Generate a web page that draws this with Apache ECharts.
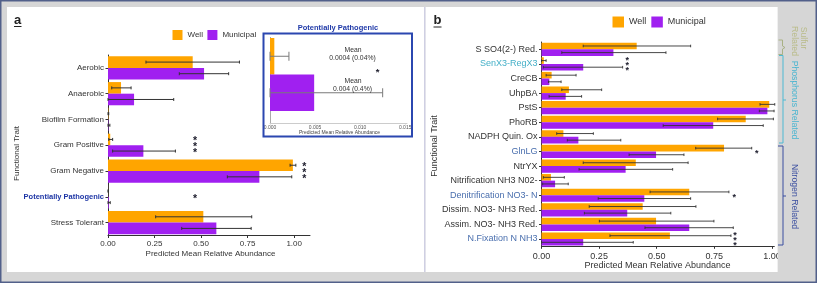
<!DOCTYPE html>
<html>
<head>
<meta charset="utf-8">
<script src="https://cdn.jsdelivr.net/npm/echarts@6.0.0/dist/echarts.min.js"></script>
<style>
html,body{margin:0;padding:0;background:#d6d6d6;}
#chart{width:817px;height:283px;}
</style>
</head>
<body>
<div id="chart"></div>
<script>
// ---------------- data : panel a ----------------
const traitsA = ['Aerobic','Anaerobic','Biofilm Formation','Gram Positive','Gram Negative','Potentially Pathogenic','Stress Tolerant'];
const wellA     = [0.455, 0.070, 0.002, 0.012, 0.993, 0.0004, 0.512];
const wellALow  = [0.204, 0.020, 0.000, 0.004, 0.978, 0.000, 0.256];
const wellAHigh = [0.706, 0.124, 0.004, 0.025, 1.009, 0.002, 0.772];
const muniA     = [0.516, 0.140, 0.002, 0.190, 0.813, 0.004, 0.582];
const muniALow  = [0.383, 0.000, 0.000, 0.025, 0.641, 0.000, 0.396];
const muniAHigh = [0.648, 0.353, 0.010, 0.362, 0.987, 0.012, 0.769];
const sigA      = ['', '', '', '***', '***', '*', ''];
const sigAX     = [null, null, null, 0.468, 1.055, 0.468, null];
const xTickValsA   = [0, 0.25, 0.5, 0.75, 1];
const xTickLabelsA = ['0.00','0.25','0.50','0.75','1.00'];

// ---------------- data : inset (Potentially Pathogenic) ----------------
const ppCategory = ['Potentially Pathogenic'];
const ppWell = [0.00048];
const ppMuni = [0.0049];
const ppWellErr = [0, 0.0021];
const ppMuniErr = [0, 0.0125];
const ppMeanText = ['0.0004 (0.04%)', '0.004 (0.4%)'];
const ppTickVals   = [0, 0.005, 0.010, 0.015];
const ppTickLabels = ['0.000','0.005','0.010','0.015'];

// ---------------- data : panel b ----------------
const traitsB = ['S SO4(2-) Red.','SenX3-RegX3','CreCB','UhpBA','PstS','PhoRB','NADPH Quin. Ox','GlnLG','NtrYX','Nitrification NH3 N02-','Denitrification NO3- N','Dissim. NO3- NH3 Red.','Assim. NO3- NH3 Red.','N.Fixation N NH3'];
const wellB     = [0.413, 0.010, 0.044, 0.119, 0.988, 0.886, 0.095, 0.792, 0.409, 0.041, 0.641, 0.439, 0.497, 0.557];
const wellBLow  = [0.181, 0.000, 0.020, 0.088, 0.948, 0.764, 0.066, 0.669, 0.181, 0.008, 0.471, 0.207, 0.251, 0.297];
const wellBHigh = [0.647, 0.020, 0.150, 0.261, 1.012, 1.006, 0.225, 0.912, 0.636, 0.099, 0.813, 0.670, 0.748, 0.822];
const muniB     = [0.312, 0.181, 0.034, 0.105, 0.980, 0.745, 0.160, 0.497, 0.365, 0.059, 0.446, 0.372, 0.641, 0.181];
const muniBLow  = [0.088, 0.008, 0.030, 0.033, 0.945, 0.528, 0.112, 0.380, 0.163, 0.005, 0.246, 0.186, 0.449, 0.000];
const muniBHigh = [0.540, 0.352, 0.085, 0.174, 1.009, 0.962, 0.344, 0.618, 0.569, 0.116, 0.647, 0.561, 0.832, 0.398];
const sigB      = ['', '***', '', '', '', '', '', '*', '', '', '*', '', '', '***'];
const sigBX     = [null, 0.372, null, null, null, null, null, 0.934, null, null, 0.836, null, null, 0.839];
const xTickValsB   = [0, 0.25, 0.5, 0.75, 1];
const xTickLabelsB = ['0.00','0.25','0.50','0.75','1.00'];

// ---------------- styles ----------------
const FONT = 'Liberation Sans, Arial, sans-serif';
const ORANGE = '#FFA500', PURPLE = '#A020F0';
const TXT = '#333333';
const BW_A = 11.6, BW_P = 36.5, BW_B = 6.6;
const labelClassB = {'SenX3-RegX3':'t', 'GlnLG':'n', 'Denitrification NO3- N':'n', 'N.Fixation N NH3':'n'};

function tickLabel(vals, labels) {
  return v => { for (let i = 0; i < vals.length; i++) if (Math.abs(vals[i] - v) < 1e-9) return labels[i]; return ''; };
}
function errData(lowW, highW, lowM, highM) {
  const d = [];
  for (let i = 0; i < lowW.length; i++) { d.push([i, lowW[i], highW[i], 0]); d.push([i, lowM[i], highM[i], 1]); }
  return d;
}
function errRender(off, capHalf, color, lw) {
  return function (params, api) {
    const cat = api.value(0), lo = api.value(1), hi = api.value(2), s = api.value(3);
    const a = api.coord([lo, cat]), b = api.coord([hi, cat]);
    const y = a[1] + (s === 0 ? -off : off);
    const st = {stroke: color, lineWidth: lw};
    return {type: 'group', children: [
      {type: 'line', shape: {x1: a[0], y1: y, x2: b[0], y2: y}, style: st},
      {type: 'line', shape: {x1: a[0], y1: y - capHalf, x2: a[0], y2: y + capHalf}, style: st},
      {type: 'line', shape: {x1: b[0], y1: y - capHalf, x2: b[0], y2: y + capHalf}, style: st}
    ]};
  };
}
function starData(sig, xs) {
  const d = [], t = [];
  sig.forEach((s, i) => { if (s) { d.push([xs[i], i]); t.push(s); } });
  return {d, t};
}
function starRender(texts, fs, gap, adj) {
  return function (params, api) {
    const p = api.coord([api.value(0), api.value(1)]);
    const n = texts[params.dataIndex].length;
    const ch = [];
    for (let k = 0; k < n; k++) {
      ch.push({type: 'text', x: p[0], y: p[1] + (k - (n - 1) / 2) * gap + adj,
        style: {text: '*', fontSize: fs, fontWeight: 'bold', fontFamily: FONT, fill: '#1a1a2a', align: 'center', verticalAlign: 'middle'}});
    }
    return {type: 'group', children: ch};
  };
}
const starsA = starData(sigA, sigAX);
const starsB = starData(sigB, sigBX);

function valueAxis(grid, max, vals, labels, fs, margin, lineColor, tickLen, labelColor) {
  return {gridIndex: grid, type: 'value', min: 0, max: max, z: 3,
    axisLine: {show: true, lineStyle: {color: lineColor, width: 1}},
    axisTick: {show: true, length: tickLen, customValues: vals, lineStyle: {color: lineColor}},
    axisLabel: {customValues: vals, formatter: tickLabel(vals, labels), fontSize: fs, color: labelColor || TXT, margin: margin, fontFamily: FONT},
    splitLine: {show: false}};
}

const chart = echarts.init(document.getElementById('chart'), null, {renderer: 'canvas'});
const T = (x, y, text, o) => Object.assign({type: 'text', x: x, y: y, z: 50,
  style: Object.assign({text: text, fontFamily: FONT, fontSize: 8, fill: TXT, align: 'center', verticalAlign: 'middle'}, o || {})});
const L = (pts, color, z) => ({type: 'polyline', z: z || 52, shape: {points: pts}, style: {stroke: color, lineWidth: 1, fill: null}});

const option = {
  animation: false,
  backgroundColor: '#d6d6d6',
  textStyle: {fontFamily: FONT},
  grid: [
    {left: 108, top: 55, width: 202, height: 180.5, containLabel: false, outerBoundsMode: 'none'},
    {left: 270, top: 26, width: 137, height: 97, containLabel: false, outerBoundsMode: 'none'},
    {left: 541.5, top: 42, width: 232.8, height: 204.3, containLabel: false, outerBoundsMode: 'none'}
  ],
  xAxis: [
    valueAxis(0, 1.085, xTickValsA, xTickLabelsA, 8, 4.5, '#333', 2.5),
    valueAxis(1, 0.0152, ppTickVals, ppTickLabels, 5, 2, '#cccccc', 1.5, '#555'),
    valueAxis(2, 1.01, xTickValsB, xTickLabelsB, 9, 5.5, '#333', 2.5)
  ],
  yAxis: [
    {gridIndex: 0, type: 'category', data: traitsA, inverse: true, z: 3,
      axisLine: {show: true, lineStyle: {color: '#333'}},
      axisTick: {show: true, alignWithLabel: true, interval: 0, length: 2.5, lineStyle: {color: '#333'}},
      axisLabel: {interval: 0, fontSize: 8, color: TXT, margin: 4, fontFamily: FONT,
        formatter: v => v === 'Potentially Pathogenic' ? '{pp|' + v + '}' : v,
        rich: {pp: {color: '#1d35a5', fontWeight: 'bold', fontSize: 7.5, fontFamily: FONT}}}},
    {gridIndex: 1, type: 'category', data: ppCategory, inverse: true, z: 3,
      axisLine: {show: false}, axisTick: {show: false}, axisLabel: {show: false}},
    {gridIndex: 2, type: 'category', data: traitsB, inverse: true, z: 3,
      axisLine: {show: true, lineStyle: {color: '#333'}},
      axisTick: {show: true, alignWithLabel: true, interval: 0, length: 2.5, lineStyle: {color: '#333'}},
      axisLabel: {interval: 0, fontSize: 9, color: TXT, margin: 4, fontFamily: FONT,
        formatter: v => labelClassB[v] ? '{' + labelClassB[v] + '|' + v + '}' : v,
        rich: {t: {color: '#45b0c8', fontSize: 9, fontFamily: FONT}, n: {color: '#4a6fae', fontSize: 9, fontFamily: FONT}}}}
  ],
  legend: [
    {data: ['Well', 'Municipal'], left: 172.5, top: 30, padding: 0, itemWidth: 10, itemHeight: 10, itemGap: 4.5,
      icon: 'rect', selectedMode: false, textStyle: {fontSize: 8, color: '#333', fontFamily: FONT}},
    {data: ['Well', 'Municipal'], left: 612.5, top: 16.5, padding: 0, itemWidth: 11.5, itemHeight: 11, itemGap: 5,
      icon: 'rect', selectedMode: false, textStyle: {fontSize: 9, color: '#333', fontFamily: FONT}}
  ],
  series: [
    {type: 'bar', name: 'Well', xAxisIndex: 0, yAxisIndex: 0, data: wellA, barWidth: BW_A, barGap: '0%', itemStyle: {color: ORANGE}, z: 6, silent: true},
    {type: 'bar', name: 'Municipal', xAxisIndex: 0, yAxisIndex: 0, data: muniA, barWidth: BW_A, barGap: '0%', itemStyle: {color: PURPLE}, z: 6, silent: true},
    {type: 'custom', name: 'errA', xAxisIndex: 0, yAxisIndex: 0, data: errData(wellALow, wellAHigh, muniALow, muniAHigh),
      encode: {x: [1, 2], y: 0}, renderItem: errRender(BW_A / 2, 1.5, '#333', 1), z: 8, silent: true},
    {type: 'custom', name: 'starsA', xAxisIndex: 0, yAxisIndex: 0, data: starsA.d, encode: {x: 0, y: 1},
      renderItem: starRender(starsA.t, 10.5, 6, 2.2), z: 9, silent: true},

    {type: 'bar', name: 'Well', xAxisIndex: 1, yAxisIndex: 1, data: ppWell, barWidth: BW_P, barGap: '0%', itemStyle: {color: ORANGE}, z: 6, silent: true},
    {type: 'bar', name: 'Municipal', xAxisIndex: 1, yAxisIndex: 1, data: ppMuni, barWidth: BW_P, barGap: '0%', itemStyle: {color: PURPLE}, z: 6, silent: true},
    {type: 'custom', name: 'errP', xAxisIndex: 1, yAxisIndex: 1, data: [[0, ppWellErr[0], ppWellErr[1], 0], [0, ppMuniErr[0], ppMuniErr[1], 1]],
      encode: {x: [1, 2], y: 0}, renderItem: errRender(BW_P / 2, 4.5, '#7a7a7a', 1), z: 8, silent: true},

    {type: 'bar', name: 'Well', xAxisIndex: 2, yAxisIndex: 2, data: wellB, barWidth: BW_B, barGap: '0%', itemStyle: {color: ORANGE}, z: 6, silent: true},
    {type: 'bar', name: 'Municipal', xAxisIndex: 2, yAxisIndex: 2, data: muniB, barWidth: BW_B, barGap: '0%', itemStyle: {color: PURPLE}, z: 6, silent: true},
    {type: 'custom', name: 'errB', xAxisIndex: 2, yAxisIndex: 2, data: errData(wellBLow, wellBHigh, muniBLow, muniBHigh),
      encode: {x: [1, 2], y: 0}, renderItem: errRender(BW_B / 2, 1.3, '#333', 0.9), z: 8, silent: true},
    {type: 'custom', name: 'starsB', xAxisIndex: 2, yAxisIndex: 2, data: starsB.d, encode: {x: 0, y: 1},
      renderItem: starRender(starsB.t, 9, 5, 2), z: 9, silent: true}
  ],
  graphic: {elements: [
    // panels
    {type: 'rect', z: 1, shape: {x: 7, y: 7, width: 417, height: 265}, style: {fill: '#ffffff'}},
    {type: 'rect', z: 1, shape: {x: 424, y: 7, width: 1.6, height: 265}, style: {fill: '#cfcfe3'}},
    {type: 'rect', z: 1, shape: {x: 425.6, y: 7, width: 352.2, height: 265}, style: {fill: '#ffffff'}},
    // inset box
    {type: 'line', z: 2, shape: {x1: 270.5, y1: 37, x2: 270.5, y2: 123}, style: {stroke: '#aaaaaa', lineWidth: 1}},
    {type: 'rect', z: 49, shape: {x: 412.5, y: 116, width: 10, height: 20}, style: {fill: '#ffffff'}},
    {type: 'rect', z: 50, shape: {x: 263.5, y: 33.5, width: 148.5, height: 103}, style: {fill: null, stroke: '#2b47b0', lineWidth: 2}},
    T(338, 27.7, 'Potentially Pathogenic', {fontSize: 7.5, fontWeight: 'bold', fill: '#1f39a8'}),
    T(353, 50, 'Mean', {fontSize: 6.8, fill: '#333'}),
    T(352.5, 58.5, ppMeanText[0], {fontSize: 6.8, fill: '#333'}),
    T(353, 81, 'Mean', {fontSize: 6.8, fill: '#333'}),
    T(352.5, 89.3, ppMeanText[1], {fontSize: 6.8, fill: '#333'}),
    T(377.7, 72.5, '*', {fontSize: 9.5, fontWeight: 'bold', fill: '#1a1a2a'}),
    T(339.5, 132.3, 'Predicted Mean Relative Abundance', {fontSize: 5, fill: '#444'}),
    // right grey strip (clips panel b)
    {type: 'rect', z: 49, shape: {x: 777.8, y: 2, width: 37, height: 279}, style: {fill: '#d6d6d6'}},
    {type: 'rect', z: 51, shape: {x: 0.75, y: 0.75, width: 815.5, height: 281.5}, style: {fill: null, stroke: '#52608a', lineWidth: 1.5}},
    // panel letters
    T(14, 20, 'a', {fontSize: 13, fontWeight: 'bold', fill: '#222', align: 'left'}),
    {type: 'line', z: 50, shape: {x1: 14, y1: 26.5, x2: 21.5, y2: 26.5}, style: {stroke: '#222', lineWidth: 1}},
    T(433.5, 20.5, 'b', {fontSize: 13, fontWeight: 'bold', fill: '#222', align: 'left'}),
    {type: 'line', z: 50, shape: {x1: 433.5, y1: 27, x2: 441.5, y2: 27}, style: {stroke: '#222', lineWidth: 1}},
    // axis titles
    T(210.5, 254, 'Predicted Mean Relative Abundance', {fontSize: 8}),
    T(657.5, 266, 'Predicted Mean Relative Abundance', {fontSize: 9}),
    Object.assign(T(17, 153.5, 'Functional Trait', {fontSize: 8}), {rotation: Math.PI / 2}),
    Object.assign(T(435, 146, 'Functional Trait', {fontSize: 9}), {rotation: Math.PI / 2}),
    // brackets
    L([[778.5, 40], [782.5, 40], [782.5, 46], [785, 47.5], [782.5, 49], [782.5, 54.5], [778.5, 54.5]], '#a9b184'),
    L([[779, 55.5], [783, 55.5], [783, 143], [779, 143]], '#4db9d3'),
    L([[783, 100], [786, 100]], '#4db9d3'),
    L([[778, 146], [783, 146], [783, 245], [778, 245]], '#3b4ea0'),
    L([[783, 196], [786, 196]], '#3b4ea0'),
    Object.assign(T(803.3, 38, 'Sulfur', {fontSize: 8.7, fill: '#b9bb88'}), {rotation: -Math.PI / 2, z: 52}),
    Object.assign(T(794, 41, 'Related', {fontSize: 8.7, fill: '#b9bb88'}), {rotation: -Math.PI / 2, z: 52}),
    Object.assign(T(794, 100, 'Phosphorus Related', {fontSize: 8.7, fill: '#4ab5d0'}), {rotation: -Math.PI / 2, z: 52}),
    Object.assign(T(794, 196.5, 'Nitrogen Related', {fontSize: 8.7, fill: '#3d50a0'}), {rotation: -Math.PI / 2, z: 52})
  ]}
};
chart.setOption(option);
</script>
</body>
</html>
